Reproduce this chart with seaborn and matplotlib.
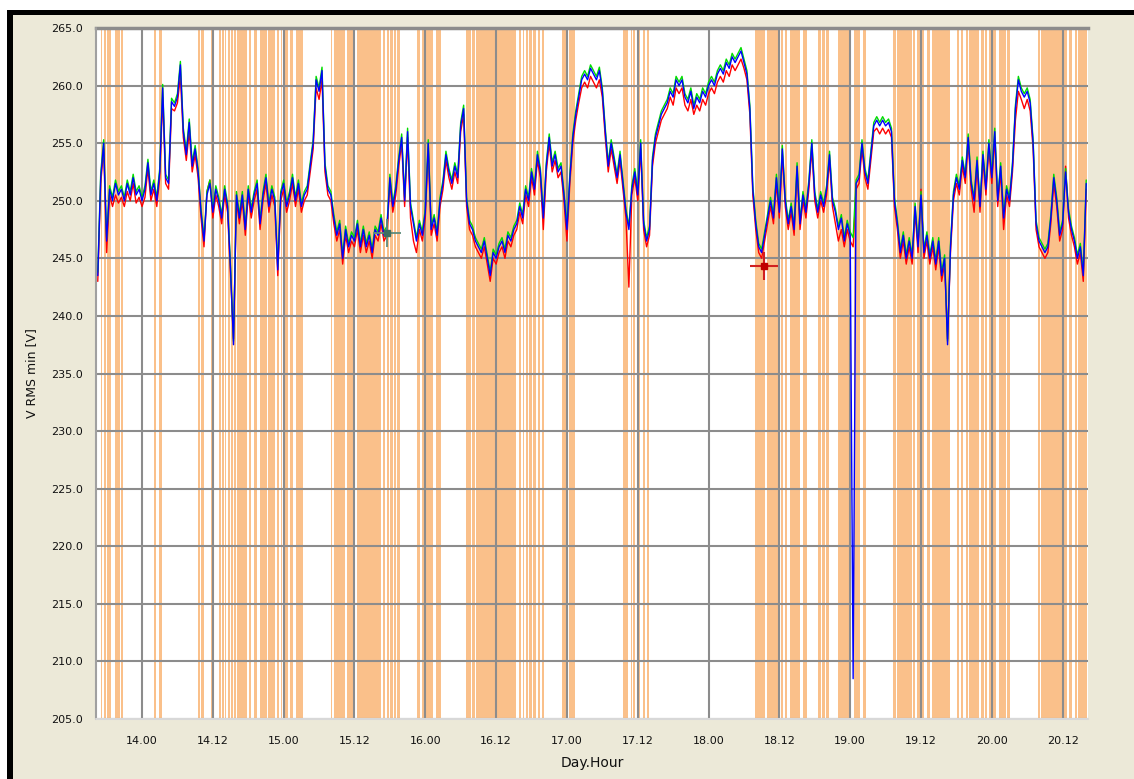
import numpy as np
import pandas as pd
import matplotlib
matplotlib.use("Agg")
import matplotlib.pyplot as plt
from matplotlib.patches import Rectangle
import seaborn as sns

# ---------------- data (hours since day 13 00:00, samples every 0.5 h from 16.5 h) ----------------
t_start = 16.5
t_step = 0.5

blue = [
    243.5, 252.0, 255.0, 246.5, 251.0, 250.0, 251.5, 250.5, 251.0, 250.0, 251.5, 250.5,
    252.0, 250.5, 251.0, 250.0, 251.0, 253.3, 250.5, 251.5, 250.0, 252.5, 259.8, 252.0,
    251.5, 258.6, 258.2, 259.0, 261.8, 256.0, 254.0, 256.8, 253.0, 254.5, 252.5, 249.0,
    246.5, 250.5, 251.5, 249.0, 251.0, 250.0, 248.5, 251.0, 249.5, 244.0, 237.5, 250.5,
    248.5, 250.5, 247.5, 251.0, 249.0, 250.5, 251.5, 248.0, 250.5, 252.0, 249.5, 251.0,
    250.0, 244.0, 250.5, 251.5, 249.5, 250.5, 252.0, 250.0, 251.5, 249.5, 250.5, 251.0,
    253.0, 255.0, 260.5, 259.5, 261.3, 253.0, 251.0, 250.5, 248.5, 247.0, 248.0, 245.0,
    247.5, 246.0, 247.0, 246.5, 248.0, 246.0, 247.5, 246.0, 247.0, 245.5, 247.5, 247.0,
    248.5, 247.0, 247.5, 252.0, 249.5, 251.0, 253.5, 255.5, 250.0, 256.0, 249.5, 248.0,
    246.5, 248.0, 247.0, 249.0, 255.0, 247.5, 248.5, 247.0, 250.0, 251.5, 254.0, 252.5,
    251.5, 253.0, 252.0, 256.5, 258.0, 250.0, 248.0, 247.5, 246.5, 246.0, 245.5, 246.5,
    245.0, 243.5, 245.5, 245.0, 246.0, 246.5, 245.5, 247.0, 246.5, 247.5, 248.0, 249.5,
    248.5, 251.0, 250.0, 252.5, 251.0, 254.0, 252.5, 248.5, 253.0, 255.5, 253.0, 254.0,
    252.5, 253.0, 250.5, 247.5, 252.0, 255.5, 257.5, 259.0, 260.5, 261.0, 260.5, 261.5,
    261.0, 260.5, 261.3, 259.5, 256.0, 253.0, 255.0, 253.5, 252.0, 254.0, 251.5, 249.0,
    247.5, 251.0, 252.5, 250.5, 255.0, 248.0, 246.5, 247.5, 253.5, 255.5, 256.5, 257.5,
    258.0, 258.5, 259.5, 259.0, 260.5, 260.0, 260.5, 259.0, 258.5, 259.5, 258.0, 259.0,
    258.5, 259.5, 259.0, 260.0, 260.5, 260.0, 261.0, 261.5, 261.0, 262.0, 261.5, 262.5,
    262.0, 262.5, 263.0, 262.0, 261.0, 258.0, 251.0, 248.0, 246.0, 245.5, 247.0, 248.5,
    250.0, 248.5, 252.0, 249.0, 254.5, 250.0, 248.0, 249.5, 247.5, 253.0, 248.0, 250.5,
    249.0, 251.5, 255.0, 250.5, 249.0, 250.5, 249.5, 251.0, 254.0, 250.0, 249.0, 247.5,
    248.5, 246.5, 248.0, 247.0, 208.5, 251.5, 252.0, 255.0, 252.5, 251.5, 254.0, 256.5,
    257.0, 256.5, 257.0, 256.5, 256.8, 256.0, 250.0, 248.0, 245.5, 247.0, 245.0, 246.5,
    245.0, 249.5, 246.0, 250.5, 245.5, 247.0, 245.0, 246.5, 244.5, 246.5, 243.5, 245.0,
    237.5, 246.0, 250.5, 252.0, 251.0, 253.5, 252.0, 255.5, 251.5, 250.0, 253.5, 249.5,
    254.0, 251.0, 255.0, 252.0, 256.0, 250.0, 253.0, 248.5, 251.0, 250.0, 253.0, 258.0,
    260.5, 259.5, 259.0, 259.5, 258.5, 255.0, 248.0, 246.5, 246.0, 245.5, 246.0, 248.5,
    252.0, 250.0, 247.0, 248.0, 252.5, 249.0, 247.5, 246.5, 245.0, 246.0, 243.5, 251.5,
]

red = [
    243.0, 251.5, 254.5, 245.5, 250.5, 249.5, 250.5, 249.8, 250.3, 249.5, 250.8, 250.0,
    251.5, 249.8, 250.3, 249.5, 250.3, 252.8, 250.0, 251.0, 249.5, 252.0, 259.0, 251.5,
    251.0, 258.0, 257.8, 258.5, 260.8, 255.5, 253.5, 256.0, 252.5, 254.0, 252.0, 248.5,
    246.0, 250.8, 251.8, 248.5, 250.5, 249.5, 248.0, 250.5, 249.0, 243.5, 238.0, 250.0,
    248.0, 250.0, 247.0, 250.5, 248.5, 250.0, 251.0, 247.5, 250.0, 251.5, 249.0, 250.5,
    249.5, 243.5, 250.0, 251.0, 249.0, 250.0, 251.5, 249.5, 251.0, 249.0, 250.0, 250.5,
    252.5, 254.5, 259.8, 258.8, 260.5, 252.5, 250.5, 250.0, 248.0, 246.5, 247.5, 244.5,
    247.0, 245.5, 246.5, 246.0, 247.5, 245.5, 247.0, 245.5, 246.5, 245.0, 247.0, 246.5,
    248.0, 246.5, 247.0, 251.5, 249.0, 250.5, 253.0, 255.0, 249.5, 255.5, 248.5, 246.5,
    245.5, 247.5, 246.5, 248.5, 254.5, 247.0, 248.0, 246.5, 249.5, 251.0, 253.5, 252.0,
    251.0, 252.5, 251.5, 256.0, 257.5, 249.5, 247.5, 247.0, 246.0, 245.5, 245.0, 246.0,
    244.5, 243.0, 245.0, 244.5, 245.5, 246.0, 245.0, 246.5, 246.0, 247.0, 247.5, 249.0,
    248.0, 250.5, 249.5, 252.0, 250.5, 253.5, 252.0, 247.5, 252.5, 255.0, 252.5, 253.5,
    252.0, 252.5, 250.0, 246.5, 251.5, 255.0, 257.0, 258.5, 259.8, 260.3, 259.8, 260.8,
    260.3, 259.8, 260.5, 259.0, 255.5, 252.5, 254.5, 253.0, 251.5, 253.5, 251.0, 248.5,
    242.5, 250.5, 252.0, 250.0, 254.5, 247.5, 246.0, 247.0, 253.0, 255.0, 256.0, 257.0,
    257.5, 258.0, 259.0, 258.3, 259.8, 259.3, 259.8, 258.3, 257.8, 258.8, 257.5, 258.3,
    257.8, 258.8, 258.3, 259.3, 259.8, 259.3, 260.3, 260.8, 260.3, 261.3, 260.8, 261.8,
    261.3, 261.8, 262.3, 261.5, 260.5, 257.5, 250.5, 247.5, 245.5, 245.0, 246.5, 248.0,
    249.5, 248.0, 251.5, 248.5, 254.0, 249.5, 247.5, 249.0, 247.0, 252.5, 247.5, 250.0,
    248.5, 251.0, 254.5, 250.0, 248.5, 250.0, 249.0, 250.5, 253.5, 249.5, 248.0, 246.5,
    247.5, 246.0, 247.5, 246.5, 246.0, 251.0, 251.5, 254.5, 252.0, 251.0, 253.5, 256.0,
    256.3, 255.8, 256.3, 255.8, 256.2, 255.5, 249.5, 247.5, 245.0, 246.5, 244.5, 246.0,
    244.5, 249.0, 245.5, 251.0, 245.0, 246.5, 244.5, 246.0, 244.0, 246.0, 243.0, 244.5,
    238.0, 245.5, 250.0, 251.5, 250.5, 253.0, 251.5, 255.0, 251.0, 249.0, 253.0, 249.0,
    253.5, 250.5, 254.5, 251.5, 255.5, 249.5, 252.5, 247.5, 250.5, 249.5, 252.5, 257.0,
    259.5, 258.8, 258.0, 258.8, 257.8, 254.5, 247.5, 246.0, 245.5, 245.0, 245.5, 248.0,
    251.5, 249.5, 246.5, 247.5, 253.0, 248.5, 247.0, 246.0, 244.5, 245.5, 243.0, 251.0,
]

green = [
    243.8, 252.4, 255.3, 246.8, 251.3, 250.3, 251.8, 250.8, 251.3, 250.3, 251.8, 250.8,
    252.3, 250.8, 251.3, 250.3, 251.3, 253.6, 250.8, 251.8, 250.3, 252.8, 260.1, 252.3,
    251.8, 258.9, 258.5, 259.3, 262.1, 256.3, 254.3, 257.1, 253.3, 254.8, 252.8, 249.3,
    246.8, 250.8, 251.8, 249.3, 251.3, 250.3, 248.8, 251.3, 249.8, 244.3, 237.8, 250.8,
    248.8, 250.8, 247.8, 251.3, 249.3, 250.8, 251.8, 248.3, 250.8, 252.3, 249.8, 251.3,
    250.3, 244.3, 250.8, 251.8, 249.8, 250.8, 252.3, 250.3, 251.8, 249.8, 250.8, 251.3,
    253.3, 255.3, 260.8, 259.8, 261.6, 253.3, 251.3, 250.8, 248.8, 247.3, 248.3, 245.3,
    247.8, 246.3, 247.3, 246.8, 248.3, 246.3, 247.8, 246.3, 247.3, 245.8, 247.8, 247.3,
    248.8, 247.3, 247.8, 252.3, 249.8, 251.3, 253.8, 255.8, 250.3, 256.3, 249.8, 248.3,
    246.8, 248.3, 247.3, 249.3, 255.3, 247.8, 248.8, 247.3, 250.3, 251.8, 254.3, 252.8,
    251.8, 253.3, 252.3, 256.8, 258.3, 250.3, 248.3, 247.8, 246.8, 246.3, 245.8, 246.8,
    245.3, 243.8, 245.8, 245.3, 246.3, 246.8, 245.8, 247.3, 246.8, 247.8, 248.3, 249.8,
    248.8, 251.3, 250.3, 252.8, 251.3, 254.3, 252.8, 248.8, 253.3, 255.8, 253.3, 254.3,
    252.8, 253.3, 250.8, 247.8, 252.3, 255.8, 257.8, 259.3, 260.8, 261.3, 260.8, 261.8,
    261.3, 260.8, 261.6, 259.8, 256.3, 253.3, 255.3, 253.8, 252.3, 254.3, 251.8, 249.3,
    247.8, 251.3, 252.8, 250.8, 255.3, 248.3, 246.8, 247.8, 253.8, 255.8, 256.8, 257.8,
    258.3, 258.8, 259.8, 259.3, 260.8, 260.3, 260.8, 259.3, 258.8, 259.8, 258.3, 259.3,
    258.8, 259.8, 259.3, 260.3, 260.8, 260.3, 261.3, 261.8, 261.3, 262.3, 261.8, 262.8,
    262.3, 262.8, 263.3, 262.3, 261.3, 258.3, 251.3, 248.3, 246.3, 245.8, 247.3, 248.8,
    250.3, 248.8, 252.3, 249.3, 254.8, 250.3, 248.3, 249.8, 247.8, 253.3, 248.3, 250.8,
    249.3, 251.8, 255.3, 250.8, 249.3, 250.8, 249.8, 251.3, 254.3, 250.3, 249.3, 247.8,
    248.8, 246.8, 248.3, 247.3, 246.8, 251.8, 252.3, 255.3, 252.8, 251.8, 254.3, 256.8,
    257.3, 256.8, 257.3, 256.8, 257.1, 256.3, 250.3, 248.3, 245.8, 247.3, 245.3, 246.8,
    245.3, 249.8, 246.3, 250.8, 245.8, 247.3, 245.3, 246.8, 244.8, 246.8, 243.8, 245.3,
    237.8, 246.3, 250.8, 252.3, 251.3, 253.8, 252.3, 255.8, 251.8, 250.3, 253.8, 249.8,
    254.3, 251.3, 255.3, 252.3, 256.3, 250.3, 253.3, 248.8, 251.3, 250.3, 253.3, 258.3,
    260.8, 259.8, 259.3, 259.8, 258.8, 255.3, 248.3, 246.8, 246.3, 245.8, 246.3, 248.8,
    252.3, 250.3, 247.3, 248.3, 252.8, 249.3, 247.8, 246.8, 245.3, 246.3, 243.8, 251.8,
]

# shaded (orange) intervals, hours since day 13 00:00
band_start = [16.2, 17.1, 17.55, 18.0, 19.4, 20.4, 26.0, 26.9, 33.5, 34.0, 35.7, 37.0, 37.5,
              38.05, 38.55, 39.05, 39.6, 40.1, 42.1, 42.95, 43.95, 45.3, 46.9, 47.5, 48.05,
              49.05, 50.05, 50.65, 55.95, 56.5, 58.65, 60.35, 64.85, 65.55, 66.1, 66.7, 67.2,
              70.6, 71.45, 72.0, 73.8, 78.9, 80.0, 80.55, 84.1, 87.9, 88.5, 89.05, 89.6,
              90.3, 91.05, 91.85, 95.15, 96.3, 105.55, 106.8, 107.25, 108.15, 108.85, 109.5,
              127.8, 129.95, 132.3, 132.9, 133.8, 136.05, 138.6, 139.25, 139.9, 141.95,
              144.65, 146.25, 151.2, 152.0, 154.6, 155.3, 156.05, 157.1, 157.9, 162.15,
              162.75, 163.55, 164.2, 166.15, 166.8, 167.6, 168.2, 169.3, 170.65, 175.75,
              176.3, 180.25, 181.15, 182.05, 182.65]
band_end = [16.45, 17.3, 17.9, 18.7, 20.3, 20.7, 26.4, 27.3, 33.8, 34.5, 36.1, 37.4, 37.9,
            38.3, 38.9, 39.4, 39.9, 41.8, 42.45, 43.5, 45.1, 46.55, 47.25, 47.8, 48.7,
            49.6, 50.55, 51.2, 56.2, 58.4, 59.9, 64.5, 65.2, 65.9, 66.55, 67.1, 67.7,
            71.05, 71.9, 73.25, 74.7, 79.8, 80.35, 83.85, 87.45, 88.25, 88.8, 89.4, 90.05,
            90.75, 91.4, 92.1, 95.8, 97.3, 106.35, 107.0, 107.6, 108.4, 109.3, 109.85,
            129.6, 131.9, 132.65, 133.3, 135.5, 136.75, 139.1, 139.7, 140.4, 144.0,
            145.7, 146.6, 151.8, 154.4, 154.95, 155.85, 156.55, 157.45, 160.95, 162.5,
            163.2, 163.9, 165.8, 166.6, 167.25, 167.8, 168.65, 170.4, 171.1, 176.1,
            179.9, 180.7, 181.6, 182.4, 184.2]

# cursor markers
cursor_t = [65.5, 129.4]
cursor_v = [247.2, 244.3]

y_ticks = [205, 210, 215, 220, 225, 230, 235, 240, 245, 250, 255, 260, 265]
x_ticks = [24, 36, 48, 60, 72, 84, 96, 108, 120, 132, 144, 156, 168, 180]
x_tick_labels = ["14.00", "14.12", "15.00", "15.12", "16.00", "16.12", "17.00",
                 "17.12", "18.00", "18.12", "19.00", "19.12", "20.00", "20.12"]

# ---------------- figure ----------------
sns.set_style("white")
plt.rcParams["font.family"] = ["DejaVu Sans"]

W, H = 1134, 779
fig = plt.figure(figsize=(W / 100, H / 100), dpi=100, facecolor="white")
BEIGE = "#ECE9D8"
fig.add_artist(Rectangle((13 / W, 0), 1, (H - 15) / H, transform=fig.transFigure,
                         facecolor=BEIGE, edgecolor="none", zorder=-10))
fig.add_artist(Rectangle((7 / W, (H - 15) / H), 1, 5 / H, transform=fig.transFigure,
                         facecolor="black", edgecolor="none", zorder=-9))
fig.add_artist(Rectangle((7 / W, 0), 6 / W, (H - 10) / H, transform=fig.transFigure,
                         facecolor="black", edgecolor="none", zorder=-9))

ax = fig.add_axes([96 / W, (H - 719) / H, (1088 - 96) / W, (719 - 28) / H])
ax.set_facecolor("white")

n = len(blue)
t = t_start + t_step * np.arange(n)
df = pd.DataFrame({
    "t": np.concatenate([t, t, t]),
    "v": np.concatenate([red, green, blue]),
    "phase": ["L1"] * n + ["L2"] * n + ["L3"] * n,
})

for s, e in zip(band_start, band_end):
    ax.axvspan(s, e, color="#FAC08A", lw=0, zorder=0.2)

sns.lineplot(data=df, x="t", y="v", hue="phase", hue_order=["L1", "L2", "L3"],
             palette=["#FF0000", "#00DD00", "#0000FF"], linewidth=1.0,
             legend=False, ax=ax, zorder=3, estimator=None, sort=True)

# cursors
ax.plot(cursor_t[0], cursor_v[0], marker="+", ms=20, mew=1.3, color="#5E8C7C", zorder=5)
ax.plot(cursor_t[0], cursor_v[0], marker="s", ms=5, color="#3F6F60", zorder=6)
ax.plot(cursor_t[1], cursor_v[1], marker="+", ms=20, mew=1.5, color="#D02020", zorder=5)
ax.plot(cursor_t[1], cursor_v[1], marker="s", ms=5, color="#C00000", zorder=6)

ax.set_xlim(16.2, 184.3)
ax.set_ylim(205, 265)
ax.set_yticks(y_ticks)
ax.set_yticklabels([f"{v:.1f}" for v in y_ticks])
ax.set_xticks(x_ticks)
ax.set_xticklabels(x_tick_labels)

ax.set_axisbelow(True)
ax.grid(True, color="#8C8C8C", linewidth=1.5)
for sp in ["left", "bottom"]:
    ax.spines[sp].set_position(("outward", 3))
    ax.spines[sp].set_color("none")
ax.spines["right"].set_visible(False)
ax.spines["top"].set_color("#8C8C8C")
ax.spines["top"].set_linewidth(2.5)
ax.plot([0, 0], [0, 1], transform=ax.transAxes, color="#A0A0A0", lw=1.5,
        clip_on=False, zorder=4)
ax.plot([0, 1], [0, 0], transform=ax.transAxes, color="#D8D8D8", lw=1.5,
        clip_on=False, zorder=4)

ax.tick_params(axis="both", direction="out", length=5, width=1.3, color="black",
               labelsize=8, labelcolor="#111111")
ax.tick_params(axis="y", pad=1.5)
ax.tick_params(axis="x", pad=4)

ax.set_xlabel("Day.Hour", fontsize=10, color="#111111")
ax.set_ylabel("V RMS min [V]", fontsize=9, color="#111111")
ax.xaxis.set_label_coords(0.5, -0.053)
ax.yaxis.set_label_coords(-0.058, 0.5)

fig.savefig("out.png", dpi=100, facecolor=fig.get_facecolor())
